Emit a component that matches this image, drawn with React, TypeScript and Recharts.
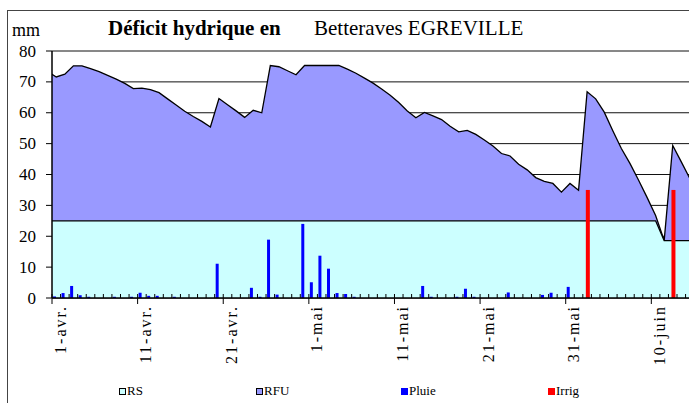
import { ComposedChart, Area, Bar, XAxis, YAxis, CartesianGrid } from 'recharts'

// jours depuis le 1er avril (-1 = 31 mars)
const jours = [
  -1, 0, 1, 2, 3, 4, 5, 6, 7, 8, 9,
  10, 11, 12, 13, 14, 15, 16, 17, 18, 19,
  20, 21, 22, 23, 24, 25, 26, 27, 28, 29,
  30, 31, 32, 33, 34, 35, 36, 37, 38, 39,
  40, 41, 42, 43, 44, 45, 46, 47, 48, 49,
  50, 51, 52, 53, 54, 55, 56, 57, 58, 59,
  60, 61, 62, 63, 64, 65, 66, 67, 68, 69,
  70, 71, 72, 73, 74,
]

// réserve totale (mm)
const rfu = [
  73.4,
  71.6, 72.5, 75.2, 75.2, 74.3, 73.3, 72.1, 70.9, 69.5, 67.8,
  68.0, 67.5, 66.5, 64.5, 62.5, 60.5, 58.8, 57.2, 55.4, 64.6,
  62.6, 60.6, 58.5, 60.8, 60.0, 75.3, 74.9, 73.6, 72.3, 75.3,
  75.3, 75.3, 75.3, 75.3, 74.1, 72.8, 71.2, 69.6, 67.7, 65.7,
  63.3, 60.6, 58.4, 60.1, 59.0, 57.8, 55.6, 53.8, 54.3, 53.0,
  51.2, 49.2, 46.8, 46.0, 43.3, 41.5, 39.0, 37.8, 37.1, 34.3,
  37.1, 34.9, 66.8, 64.5, 60.2, 54.2, 48.4, 43.6, 38.2, 32.6,
  26.7, 18.6, 49.4, 44.1, 38.7,
]

// réserve de survie (mm)
const rs = [
  25,
  25, 25, 25, 25, 25, 25, 25, 25, 25, 25,
  25, 25, 25, 25, 25, 25, 25, 25, 25, 25,
  25, 25, 25, 25, 25, 25, 25, 25, 25, 25,
  25, 25, 25, 25, 25, 25, 25, 25, 25, 25,
  25, 25, 25, 25, 25, 25, 25, 25, 25, 25,
  25, 25, 25, 25, 25, 25, 25, 25, 25, 25,
  25, 25, 25, 25, 25, 25, 25, 25, 25, 25,
  25, 18.6, 18.6, 18.6, 18.6,
]

const pluie = [
  0,
  0.5, 1.6, 3.9, 0.9, 0.4, 0, 0, 0.4, 0, 0.4,
  1.7, 0.7, 0.7, 0, 0.4, 0, 0, 0, 0, 11.1,
  0, 0, 0, 3.3, 0.4, 18.9, 1.1, 0, 0, 24,
  5.1, 13.7, 9.5, 1.6, 1.3, 0.4, 0, 0, 0, 0,
  0, 0, 0, 3.9, 0.4, 0, 0, 0.4, 3, 0.4,
  0, 0, 0, 1.8, 0, 0, 0, 1, 1.7, 0,
  3.6, 0, 0, 0, 0, 0, 0, 0, 0, 0,
  0, 0, 0, 0, 0,
]

const irrig = [
  0,
  0, 0, 0, 0, 0, 0, 0, 0, 0, 0,
  0, 0, 0, 0, 0, 0, 0, 0, 0, 0,
  0, 0, 0, 0, 0, 0, 0, 0, 0, 0,
  0, 0, 0, 0, 0, 0, 0, 0, 0, 0,
  0, 0, 0, 0, 0, 0, 0, 0, 0, 0,
  0, 0, 0, 0, 0, 0, 0, 0, 0, 0,
  0, 0, 35, 0, 0, 0, 0, 0, 0, 0,
  0, 0, 35, 0, 0,
]

const etiquettes = ['1-avr.', '11-avr.', '21-avr.', '1-mai', '11-mai', '21-mai', '31-mai', '10-juin']
const graduationsY = [0, 10, 20, 30, 40, 50, 60, 70, 80]
const graduationsX = jours.filter((j) => j >= 0)

// points au milieu de chaque jour, comme Excel
const data = jours.map((j, i) => ({
  x: j + 0.5,
  rfu: rfu[i],
  rs: rs[i],
  pluie: pluie[i],
  irrig: irrig[i],
}))

const FONT = '"Liberation Serif", "Times New Roman", serif'

function DateTick(props: any) {
  const { x, y, payload } = props
  const v = payload.value
  const major = v % 10 === 0
  return (
    <g>
      <line x1={x} x2={x} y1={y - 4} y2={major ? y + 6 : y} stroke="#000" strokeWidth={1} />
      {major && (
        <text
          transform={`translate(${x + 8},${y + 7}) rotate(-90)`}
          textAnchor="end"
          dominantBaseline="central"
          fontSize={16}
          fontFamily={FONT}
          letterSpacing={2}
          fill="#000"
        >
          {etiquettes[v / 10]}
        </text>
      )}
    </g>
  )
}

function MmTick(props: any) {
  const { x, y, payload } = props
  return (
    <text x={x} y={y} textAnchor="end" dominantBaseline="central" fontSize={17} fontFamily={FONT} fill="#000">
      {payload.value}
    </text>
  )
}

function LegendItem({ x, color, border, label }: { x: number; color: string; border: boolean; label: string }) {
  return (
    <div style={{ position: 'absolute', left: x, top: 383, display: 'flex', alignItems: 'center', fontSize: 13, fontFamily: FONT }}>
      <div
        style={{
          width: border ? 5 : 7,
          height: border ? 5 : 7,
          background: color,
          border: border ? '1px solid #000' : 'none',
          marginRight: 1,
        }}
      />
      <span>{label}</span>
    </div>
  )
}

export default function App() {
  return (
    <div style={{ position: 'absolute', left: 0, top: 0, width: 689, height: 403, overflow: 'hidden', background: '#fff', fontFamily: FONT }}>
      <div style={{ position: 'absolute', left: 7, top: 10, width: 800, height: 500, border: '1.5px solid #444' }} />
      <div style={{ position: 'absolute', left: 12, top: 20, fontSize: 18 }}>mm</div>
      <div style={{ position: 'absolute', left: 108, top: 16, fontSize: 21, fontWeight: 'bold' }}>Déficit hydrique en</div>
      <div style={{ position: 'absolute', left: 314, top: 16, fontSize: 21 }}>Betteraves EGREVILLE</div>
      <ComposedChart
        width={689}
        height={403}
        data={data}
        margin={{ top: 51, right: 0, left: 0, bottom: 0 }}
        barGap={-1}
        style={{ position: 'absolute', left: 0, top: 0 }}
      >
        <CartesianGrid vertical={false} stroke="#111" strokeWidth={1} />
        <XAxis
          dataKey="x"
          type="number"
          domain={[0, 74.4]}
          allowDataOverflow
          ticks={graduationsX}
          interval={0}
          tick={<DateTick />}
          tickLine={false}
          tickSize={0}
          tickMargin={0}
          height={105}
          axisLine={{ stroke: '#000', strokeWidth: 1.5 }}
        />
        <YAxis
          type="number"
          domain={[0, 80]}
          ticks={graduationsY}
          interval={0}
          width={52}
          tickSize={6}
          tickMargin={10}
          tick={<MmTick />}
          tickLine={{ stroke: '#000' }}
          axisLine={{ stroke: '#000', strokeWidth: 1.5 }}
        />
        <Area type="linear" dataKey="rfu" name="RFU" fill="#9999FF" fillOpacity={1} stroke="#000" strokeWidth={1.3} dot={false} activeDot={false} isAnimationActive={false} />
        <Area type="linear" dataKey="rs" name="RS" fill="#CCFFFF" fillOpacity={1} stroke="#000" strokeWidth={1.3} dot={false} activeDot={false} isAnimationActive={false} />
        <Bar dataKey="pluie" name="Pluie" fill="#0000FF" barSize={3} isAnimationActive={false} />
        <Bar dataKey="irrig" name="Irrig" fill="#FF0000" barSize={4} isAnimationActive={false} />
      </ComposedChart>
      <LegendItem x={119} color="#CCFFFF" border label="RS" />
      <LegendItem x={256} color="#9999FF" border label="RFU" />
      <LegendItem x={401} color="#0000FF" border={false} label="Pluie" />
      <LegendItem x={548} color="#FF0000" border={false} label="Irrig" />
    </div>
  )
}
